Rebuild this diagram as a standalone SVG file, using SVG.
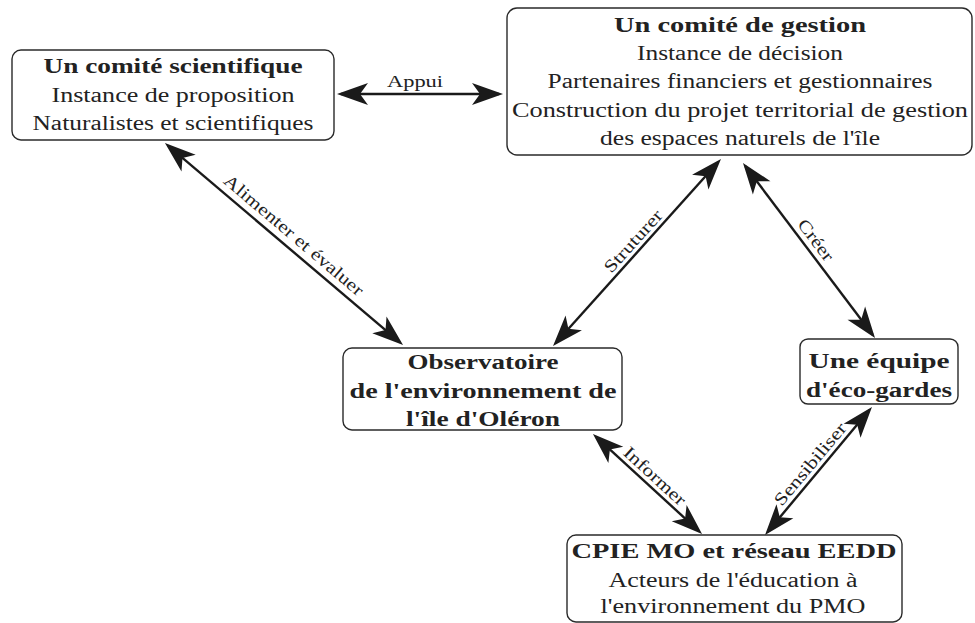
<svg xmlns="http://www.w3.org/2000/svg" width="975" height="623" viewBox="0 0 975 623">
<defs>
<style>
.box{fill:#fff;stroke:#2a2a2a;stroke-width:1.4}
.t{font-family:'Liberation Serif','Times New Roman',serif;font-size:20.5px;fill:#222;text-anchor:middle}
.b{font-weight:bold}
.lab{font-family:'Liberation Serif','Times New Roman',serif;font-size:17.5px;fill:#222;text-anchor:middle}
.con{fill:none;stroke:#1a1a1a;stroke-width:2.4;marker-start:url(#ah);marker-end:url(#ah)}
</style>
<marker id="ah" viewBox="-29 -12 34 24" refX="0" refY="0" markerWidth="34" markerHeight="24" markerUnits="userSpaceOnUse" orient="auto-start-reverse">
<path d="M4,0 L-27,-11 L-19,0 L-27,11 Z" fill="#1a1a1a"/>
</marker>
</defs>
<rect width="975" height="623" fill="#fff"/>

<g id="connectors">
<line class="con" x1="341" y1="94" x2="499" y2="94"/>
<line class="con" x1="168" y1="145.6" x2="400" y2="342.4"/>
<line class="con" x1="718.3" y1="162" x2="555.7" y2="343"/>
<line class="con" x1="745.4" y1="166.2" x2="872.6" y2="334.8"/>
<line class="con" x1="595.9" y1="436.7" x2="699.1" y2="531.3"/>
<line class="con" x1="869.4" y1="410.1" x2="767.6" y2="531.9"/>
<text class="lab" x="415" y="87" textLength="56" lengthAdjust="spacingAndGlyphs">Appui</text>
<text class="lab" transform="translate(294,235) rotate(40.3)" x="0" y="6" textLength="177" lengthAdjust="spacingAndGlyphs">Alimenter et évaluer</text>
<text class="lab" transform="translate(633,241) rotate(-48)" x="0" y="6" textLength="78" lengthAdjust="spacingAndGlyphs">Struturer</text>
<text class="lab" transform="translate(816,240) rotate(52.8)" x="0" y="6" textLength="48" lengthAdjust="spacingAndGlyphs">Créer</text>
<text class="lab" transform="translate(655,476) rotate(42.5)" x="0" y="6" textLength="78" lengthAdjust="spacingAndGlyphs">Informer</text>
<text class="lab" transform="translate(810,464) rotate(-50)" x="0" y="6" textLength="102" lengthAdjust="spacingAndGlyphs">Sensibiliser</text>
</g>

<g id="comite-scientifique">
<rect class="box" x="12" y="50" width="322" height="90" rx="9"/>
<text class="t b" x="173" y="73" textLength="259" lengthAdjust="spacingAndGlyphs">Un comité scientifique</text>
<text class="t" x="173" y="102" textLength="243" lengthAdjust="spacingAndGlyphs">Instance de proposition</text>
<text class="t" x="173" y="130" textLength="281" lengthAdjust="spacingAndGlyphs">Naturalistes et scientifiques</text>
</g>

<g id="comite-gestion">
<rect class="box" x="507" y="8" width="465" height="147" rx="10"/>
<text class="t b" x="740" y="32" textLength="252" lengthAdjust="spacingAndGlyphs">Un comité de gestion</text>
<text class="t" x="740" y="60" textLength="206" lengthAdjust="spacingAndGlyphs">Instance de décision</text>
<text class="t" x="740" y="88" textLength="385" lengthAdjust="spacingAndGlyphs">Partenaires financiers et gestionnaires</text>
<text class="t" x="740" y="117" textLength="456" lengthAdjust="spacingAndGlyphs">Construction du projet territorial de gestion</text>
<text class="t" x="740" y="145" textLength="280" lengthAdjust="spacingAndGlyphs">des espaces naturels de l'île</text>
</g>

<g id="observatoire">
<rect class="box" x="343" y="348" width="279" height="82" rx="9"/>
<text class="t b" x="483" y="369" textLength="151" lengthAdjust="spacingAndGlyphs">Observatoire</text>
<text class="t b" x="483" y="398" textLength="267" lengthAdjust="spacingAndGlyphs">de l'environnement de</text>
<text class="t b" x="483" y="426" textLength="154" lengthAdjust="spacingAndGlyphs">l'île d'Oléron</text>
</g>

<g id="eco-gardes">
<rect class="box" x="800" y="339" width="158" height="65" rx="8"/>
<text class="t b" x="879" y="368" textLength="141" lengthAdjust="spacingAndGlyphs">Une équipe</text>
<text class="t b" x="879" y="397" textLength="146" lengthAdjust="spacingAndGlyphs">d'éco-gardes</text>
</g>

<g id="cpie">
<rect class="box" x="567" y="535" width="335" height="87" rx="9"/>
<text class="t b" x="734" y="558" textLength="325" lengthAdjust="spacingAndGlyphs">CPIE MO et réseau EEDD</text>
<text class="t" x="733" y="587" textLength="249" lengthAdjust="spacingAndGlyphs">Acteurs de l'éducation à</text>
<text class="t" x="733" y="613" textLength="265" lengthAdjust="spacingAndGlyphs">l'environnement du PMO</text>
</g>
</svg>
